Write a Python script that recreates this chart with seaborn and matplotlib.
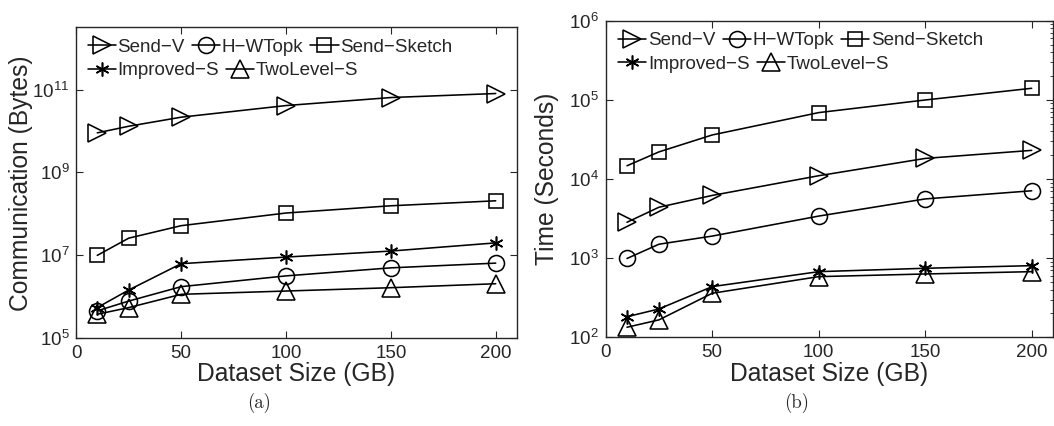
import numpy as np
import pandas as pd
import seaborn as sns
import matplotlib
matplotlib.use('Agg')
import matplotlib.pyplot as plt
from matplotlib.ticker import LogLocator, NullLocator, NullFormatter

# style first, fonts after (set_style resets font.family)
sns.set_style('ticks')
plt.rcParams['font.family'] = ['Liberation Sans', 'DejaVu Sans']
plt.rcParams['mathtext.fontset'] = 'custom'
plt.rcParams['mathtext.rm'] = 'Liberation Sans'

# dataset sizes (GB)
sizes = [10, 25, 50, 100, 150, 200]
methods = ['Send-V', 'H-WTopk', 'Send-Sketch', 'Improved-S', 'TwoLevel-S']

# (a) communication in bytes
send_v_comm = [9.0e9, 1.3e10, 2.15e10, 4.1e10, 6.4e10, 8.0e10]
hwtopk_comm = [4.6e5, 7.9e5, 1.76e6, 3.2e6, 5.0e6, 6.5e6]
sketch_comm = [1.0e7, 2.6e7, 5.2e7, 1.05e8, 1.57e8, 2.07e8]
improved_comm = [5.5e5, 1.46e6, 6.3e6, 9.1e6, 1.27e7, 2.0e7]
twolevel_comm = [3.8e5, 5.5e5, 1.15e6, 1.38e6, 1.66e6, 2.07e6]

# (b) time in seconds
send_v_time = [2840, 4400, 6200, 11000, 18200, 23000]
hwtopk_time = [990, 1500, 1900, 3400, 5600, 7100]
sketch_time = [14700, 22000, 36000, 69000, 99600, 140000]
improved_time = [182, 228, 437, 675, 745, 804]
twolevel_time = [134, 166, 360, 584, 631, 675]

comm = dict(zip(methods, [send_v_comm, hwtopk_comm, sketch_comm, improved_comm, twolevel_comm]))
times = dict(zip(methods, [send_v_time, hwtopk_time, sketch_time, improved_time, twolevel_time]))

# matlab-ish markers
marker_style = {
    'Send-V': ('>', 13),
    'H-WTopk': ('o', 11.5),
    'Send-Sketch': ('s', 9.5),
    'Improved-S': ((6, 2, 0), 10),
    'TwoLevel-S': ('^', 13),
}

fig = plt.figure(figsize=(10.54, 4.26), dpi=100)
W, H = 1054.0, 426.0


def px_axes(left, top, right, bottom):
    return fig.add_axes([left / W, 1 - bottom / H, (right - left) / W, (bottom - top) / H])


ax1 = px_axes(76.3, 27.3, 516.7, 338.3)
ax2 = px_axes(605.7, 20.7, 1053.0, 337.3)


def draw(ax, values):
    handles = {}
    for m in methods:
        df = pd.DataFrame({'size': sizes, 'value': values[m]})
        mk, ms = marker_style[m]
        sns.lineplot(data=df, x='size', y='value', ax=ax, color='black', lw=1.15,
                     marker=mk, markersize=ms, markerfacecolor='none',
                     markeredgecolor='black', markeredgewidth=1.15, errorbar=None)
        handles[m] = ax.lines[-1]
    return handles


def decorate(ax, ylabel, ylim, yticks, lab_x, lab_y):
    ax.set_yscale('log')
    ax.set_xlim(0, 210)
    ax.set_ylim(*ylim)
    ax.set_xticks([0, 50, 100, 150, 200])
    ax.set_yticks(yticks)
    ax.set_yticklabels([r'$\mathregular{10^{%d}}$' % int(round(np.log10(t))) for t in yticks])
    ax.xaxis.set_minor_locator(NullLocator())
    for s in ax.spines.values():
        s.set_linewidth(1.0)
    ax.tick_params(which='major', direction='in', top=True, right=True,
                   length=5, width=0.8, labelsize=13.5, pad=5)
    ax.set_xlabel('Dataset Size (GB)', fontsize=17.7)
    ax.set_ylabel(ylabel, fontsize=17.7)
    ax.xaxis.set_label_coords(0.5, lab_y)
    ax.xaxis.label.set_va('center')
    ax.yaxis.set_label_coords(lab_x, 0.5)
    ax.yaxis.label.set_va('center')


def legend_rows(ax, handles, x_px, y1_px, y2_px):
    kw = dict(frameon=False, fontsize=13.5, handlelength=1.5, handletextpad=0.1,
              columnspacing=0.37, borderpad=0, borderaxespad=0, loc='center left',
              bbox_transform=fig.transFigure)
    row1 = ['Send-V', 'H-WTopk', 'Send-Sketch']
    row2 = ['Improved-S', 'TwoLevel-S']
    # matlab draws the dash as a minus sign
    leg1 = ax.legend([handles[m] for m in row1], [m.replace('-', '\u2212') for m in row1], ncol=3,
                     bbox_to_anchor=(x_px / W, 1 - y1_px / H), **kw)
    ax.add_artist(leg1)
    ax.legend([handles[m] for m in row2], [m.replace('-', '\u2212') for m in row2], ncol=2,
              bbox_to_anchor=(x_px / W, 1 - y2_px / H), **kw)


h1 = draw(ax1, comm)
decorate(ax1, 'Communication (Bytes)', (1e5, 10 ** 12.5), [1e5, 1e7, 1e9, 1e11], -0.1256, -0.115)
ax1.yaxis.set_minor_locator(NullLocator())
legend_rows(ax1, h1, 87.5, 47.3, 70.7)

h2 = draw(ax2, times)
decorate(ax2, 'Time (Seconds)', (1e2, 1e6), [1e2, 1e3, 1e4, 1e5, 1e6], -0.132, -0.116)
ax2.yaxis.set_minor_locator(LogLocator(base=10, subs=np.arange(2, 10)))
ax2.yaxis.set_minor_formatter(NullFormatter())
ax2.tick_params(which='minor', direction='in', left=False, right=True, length=2.5, width=0.6)
legend_rows(ax2, h2, 618.3, 40.7, 64.0)

# sub-captions
fig.text(259 / W, 1 - 403 / H, '(a)', family='cmr10', fontsize=13.5, ha='center', va='center')
fig.text(797 / W, 1 - 403 / H, '(b)', family='cmr10', fontsize=13.5, ha='center', va='center')

fig.savefig('out.png', dpi=100)
